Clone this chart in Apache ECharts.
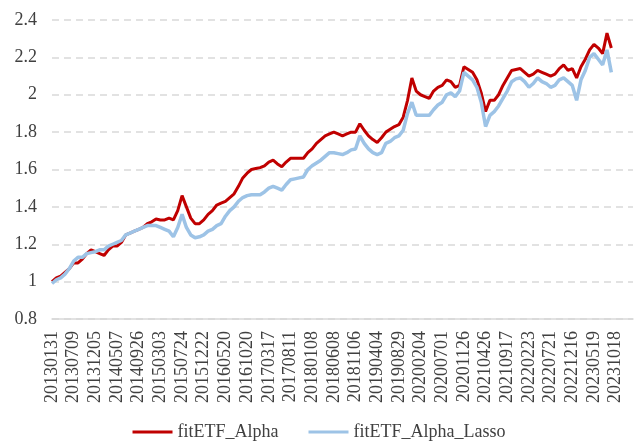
<!DOCTYPE html>
<html>
<head>
    <meta charset="utf-8">
    <title>fitETF Alpha</title>
    <script src="https://cdn.jsdelivr.net/npm/echarts@6/dist/echarts.min.js"></script>
</head>
<body style="margin:0;">
    <div id="main" style="width:638px;height:443px;"></div>
    <script type="text/javascript">
        // 日期(约每月一个点,坐标轴每5个点显示一次)
        var dates = [
            '20130131','20130301','20130402','20130507','20130605',
            '20130709','20130805','20130903','20131010','20131107',
            '20131205','20140106','20140206','20140310','20140409',
            '20140507','20140604','20140703','20140731','20140828',
            '20140926','20141031','20141128','20141229','20150129',
            '20150303','20150331','20150428','20150527','20150624',
            '20150724','20150821','20150921','20151027','20151124',
            '20151222','20160121','20160224','20160323','20160421',
            '20160520','20160620','20160719','20160816','20160913',
            '20161020','20161117','20161215','20170116','20170220',
            '20170317','20170414','20170515','20170613','20170712',
            '20170811','20170908','20171013','20171110','20171208',
            '20180108','20180205','20180312','20180411','20180510',
            '20180608','20180709','20180806','20180903','20181008',
            '20181106','20181204','20190102','20190130','20190304',
            '20190404','20190506','20190603','20190702','20190730',
            '20190829','20190926','20191031','20191128','20191227',
            '20200204','20200303','20200331','20200430','20200602',
            '20200701','20200729','20200826','20200923','20201028',
            '20201126','20201224','20210125','20210223','20210324',
            '20210426','20210526','20210624','20210722','20210819',
            '20210917','20211022','20211119','20211217','20220119',
            '20220223','20220323','20220425','20220525','20220622',
            '20220721','20220818','20220916','20221021','20221118',
            '20221216','20230116','20230217','20230317','20230419',
            '20230519','20230616','20230717','20230814','20230911',
            '20231018','20231115','20231213','20240112','20240207'
        ];

        var alpha = [
            1.00, 1.02, 1.03, 1.05, 1.07,
            1.10, 1.10, 1.12, 1.15, 1.17,
            1.16, 1.15, 1.14, 1.17, 1.19,
            1.19, 1.21, 1.25, 1.26, 1.27,
            1.28, 1.29, 1.31, 1.32, 1.335,
            1.33, 1.33, 1.34, 1.33, 1.38,
            1.46, 1.40, 1.34, 1.31, 1.31,
            1.33, 1.36, 1.38, 1.41, 1.42,
            1.43, 1.45, 1.47, 1.51, 1.555,
            1.58, 1.60, 1.605, 1.61, 1.62,
            1.64, 1.65, 1.63, 1.615, 1.64,
            1.66, 1.66, 1.66, 1.66, 1.69,
            1.71, 1.74, 1.76, 1.78, 1.79,
            1.80, 1.79, 1.78, 1.79, 1.80,
            1.80, 1.845, 1.81, 1.78, 1.76,
            1.745, 1.77, 1.80, 1.815, 1.83,
            1.84, 1.88, 1.97, 2.09, 2.02,
            2.00, 1.99, 1.98, 2.02, 2.04,
            2.05, 2.08, 2.07, 2.04, 2.05,
            2.15, 2.135, 2.12, 2.08, 2.01,
            1.91, 1.97, 1.97, 2.00, 2.05,
            2.09, 2.13, 2.135, 2.14, 2.12,
            2.10, 2.11, 2.13, 2.12, 2.11,
            2.10, 2.11, 2.14, 2.16, 2.13,
            2.14, 2.09, 2.15, 2.19, 2.24,
            2.27, 2.25, 2.22, 2.33, 2.25
        ];

        var alphaLasso = [
            0.99, 1.01, 1.02, 1.04, 1.07,
            1.11, 1.13, 1.13, 1.15, 1.155,
            1.16, 1.17, 1.17, 1.19, 1.20,
            1.21, 1.22, 1.25, 1.26, 1.27,
            1.28, 1.29, 1.30, 1.30, 1.30,
            1.29, 1.28, 1.27, 1.24, 1.29,
            1.36, 1.29, 1.25, 1.235, 1.24,
            1.25, 1.27, 1.28, 1.30, 1.31,
            1.35, 1.38, 1.40, 1.43, 1.45,
            1.46, 1.465, 1.465, 1.465, 1.48,
            1.50, 1.51, 1.50, 1.49, 1.52,
            1.545, 1.55, 1.555, 1.56, 1.60,
            1.62, 1.635, 1.65, 1.67, 1.69,
            1.69, 1.685, 1.68, 1.69, 1.705,
            1.71, 1.78, 1.74, 1.71, 1.69,
            1.68, 1.69, 1.74, 1.75, 1.77,
            1.78, 1.81, 1.90, 1.96, 1.89,
            1.89, 1.89, 1.89, 1.92, 1.945,
            1.96, 2.00, 2.01, 1.99, 2.02,
            2.12, 2.10, 2.08, 2.04, 1.96,
            1.83, 1.89, 1.91, 1.94, 1.98,
            2.02, 2.07, 2.085, 2.09, 2.07,
            2.04, 2.06, 2.09, 2.07, 2.06,
            2.04, 2.05, 2.08, 2.09, 2.07,
            2.05, 1.97, 2.08, 2.13, 2.20,
            2.22, 2.19, 2.16, 2.24, 2.12
        ];

        var textColor = '#404040';
        var fontName = 'Liberation Serif';

        var chart = echarts.init(document.getElementById('main'));
        var option = {
            animation: false,
            textStyle: {fontFamily: fontName},
            grid: {left: 52, right: 5, top: 20, bottom: 124},
            legend: {
                data: ['fitETF_Alpha', 'fitETF_Alpha_Lasso'],
                top: 418,
                left: 'center',
                icon: 'rect',
                itemWidth: 40,
                itemHeight: 3,
                itemGap: 30,
                textStyle: {color: textColor, fontSize: 18, fontFamily: fontName}
            },
            xAxis: {
                type: 'category',
                data: dates,
                boundaryGap: false,
                axisLine: {lineStyle: {color: '#d9d9d9', width: 1.5}},
                axisTick: {show: false},
                axisLabel: {
                    interval: 4,
                    rotate: 90,
                    margin: 12,
                    color: textColor,
                    fontSize: 18,
                    fontFamily: fontName
                }
            },
            yAxis: {
                type: 'value',
                min: 0.8,
                max: 2.4,
                interval: 0.2,
                axisLine: {show: false},
                axisTick: {show: false},
                axisLabel: {
                    margin: 15,
                    color: textColor,
                    fontSize: 18,
                    fontFamily: fontName
                },
                splitLine: {lineStyle: {color: '#d9d9d9', width: 1.5, type: [7, 5]}}
            },
            series: [
                {
                    name: 'fitETF_Alpha',
                    type: 'line',
                    data: alpha,
                    symbol: 'none',
                    lineStyle: {color: '#c00000', width: 3},
                    itemStyle: {color: '#c00000'}
                },
                {
                    name: 'fitETF_Alpha_Lasso',
                    type: 'line',
                    data: alphaLasso,
                    symbol: 'none',
                    lineStyle: {color: '#9dc3e6', width: 3.5},
                    itemStyle: {color: '#9dc3e6'}
                }
            ]
        };
        chart.setOption(option);
    </script>
</body>
</html>
